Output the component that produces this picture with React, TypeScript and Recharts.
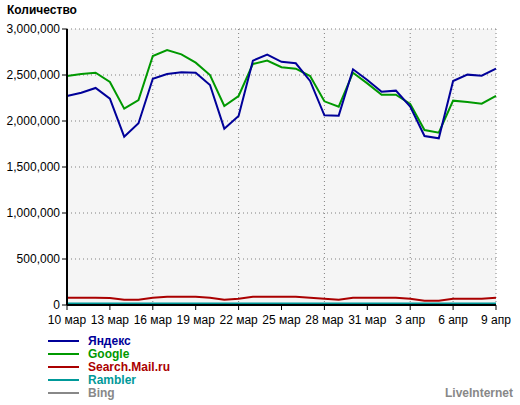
import React from 'react'
import { LineChart, Line, XAxis, YAxis, CartesianGrid } from 'recharts'

const days = [
  '10 мар', '11 мар', '12 мар', '13 мар', '14 мар', '15 мар', '16 мар', '17 мар',
  '18 мар', '19 мар', '20 мар', '21 мар', '22 мар', '23 мар', '24 мар', '25 мар',
  '26 мар', '27 мар', '28 мар', '29 мар', '30 мар', '31 мар', '1 апр', '2 апр',
  '3 апр', '4 апр', '5 апр', '6 апр', '7 апр', '8 апр', '9 апр',
]

const yandex = [
  2272000, 2308000, 2359000, 2243000, 1830000, 1975000, 2460000, 2511000,
  2529000, 2525000, 2391000, 1917000, 2054000, 2656000, 2721000, 2643000,
  2627000, 2435000, 2062000, 2058000, 2562000, 2446000, 2319000, 2330000,
  2156000, 1837000, 1812000, 2435000, 2504000, 2493000, 2569000,
]

const google = [
  2489000, 2511000, 2525000, 2424000, 2134000, 2228000, 2707000, 2772000,
  2725000, 2634000, 2500000, 2163000, 2272000, 2620000, 2656000, 2585000,
  2569000, 2489000, 2214000, 2156000, 2525000, 2409000, 2286000, 2286000,
  2185000, 1902000, 1873000, 2221000, 2207000, 2188000, 2272000,
]

const mail = [
  79000, 79000, 79000, 76000, 58000, 58000, 79000, 90000,
  90000, 90000, 79000, 58000, 68000, 90000, 90000, 90000,
  90000, 79000, 68000, 58000, 79000, 79000, 79000, 79000,
  68000, 47000, 47000, 68000, 68000, 68000, 79000,
]

const rambler = [
  15000, 15000, 15000, 15000, 15000, 15000, 15000, 15000,
  15000, 15000, 15000, 15000, 15000, 15000, 15000, 15000,
  15000, 15000, 15000, 15000, 15000, 15000, 15000, 15000,
  15000, 15000, 15000, 15000, 15000, 15000, 15000,
]

const bing = [
  8000, 8000, 8000, 8000, 8000, 8000, 8000, 8000,
  8000, 8000, 8000, 8000, 8000, 8000, 8000, 8000,
  8000, 8000, 8000, 8000, 8000, 8000, 8000, 8000,
  8000, 8000, 8000, 8000, 8000, 8000, 8000,
]

const xTicks = [0, 3, 6, 9, 12, 15, 18, 21, 24, 27, 30]
const yTicks = [0, 500000, 1000000, 1500000, 2000000, 2500000, 3000000]

const SERIES = [
  { key: 'yandex', name: 'Яндекс', color: '#000099' },
  { key: 'google', name: 'Google', color: '#009900' },
  { key: 'mail', name: 'Search.Mail.ru', color: '#aa0000' },
  { key: 'rambler', name: 'Rambler', color: '#009999' },
  { key: 'bing', name: 'Bing', color: '#888888' },
]

const FONT = '"Liberation Sans", Arial, sans-serif'

const data = days.map((d, i) => ({
  i,
  day: d,
  yandex: yandex[i],
  google: google[i],
  mail: mail[i],
  rambler: rambler[i],
  bing: bing[i],
}))

const fmt = (v: number) => v.toLocaleString('en-US')

export default function App() {
  // thin lines first so the big series sit on top
  const drawOrder = ['bing', 'rambler', 'mail', 'google', 'yandex']
  return (
    <div
      style={{
        position: 'absolute',
        left: 0,
        top: 0,
        width: 520,
        height: 405,
        background: '#fff',
        fontFamily: FONT,
      }}
    >
      <div
        style={{
          position: 'absolute',
          left: 7,
          top: 3,
          fontSize: 12,
          fontWeight: 'bold',
          color: '#000',
        }}
      >
        Количество
      </div>
      <div style={{ position: 'absolute', left: 0, top: 0 }}>
        <LineChart
          width={520}
          height={332}
          data={data}
          margin={{ top: 29, right: 24, left: 0, bottom: 7 }}
        >
          <CartesianGrid
            fill="#f5f5f5"
            stroke="#808080"
            strokeDasharray="1 3"
          />
          <XAxis
            dataKey="i"
            type="number"
            domain={[0, 30]}
            ticks={xTicks}
            tickFormatter={(v: number) => days[v]}
            height={20}
            tick={{ fontSize: 12, fill: '#000', fontFamily: FONT, dy: 3 }}
            tickSize={5}
            tickLine={{ stroke: '#000' }}
            axisLine={{ stroke: '#000', strokeWidth: 2 }}
          />
          <YAxis
            width={67}
            domain={[0, 3000000]}
            ticks={yTicks}
            tickFormatter={fmt}
            tick={{ fontSize: 12, fill: '#000', fontFamily: FONT }}
            tickSize={5}
            tickLine={{ stroke: '#000' }}
            axisLine={{ stroke: '#000', strokeWidth: 2 }}
          />
          {drawOrder.map((k) => {
            const s = SERIES.find((x) => x.key === k)!
            return (
              <Line
                key={k}
                type="linear"
                dataKey={k}
                name={s.name}
                stroke={s.color}
                strokeWidth={2}
                dot={false}
                isAnimationActive={false}
              />
            )
          })}
        </LineChart>
      </div>
      {SERIES.map((s, idx) => (
        <div
          key={s.key}
          style={{
            position: 'absolute',
            left: 48,
            top: 334 + idx * 13,
            height: 14,
            display: 'flex',
            alignItems: 'center',
          }}
        >
          <div style={{ width: 31, height: 2, background: s.color }} />
          <span
            style={{
              marginLeft: 9,
              fontSize: 12,
              fontWeight: 'bold',
              color: s.color,
              lineHeight: '14px',
            }}
          >
            {s.name}
          </span>
        </div>
      ))}
      <div
        style={{
          position: 'absolute',
          right: 7,
          top: 386,
          fontSize: 12,
          fontWeight: 'bold',
          color: '#888',
        }}
      >
        LiveInternet
      </div>
    </div>
  )
}
